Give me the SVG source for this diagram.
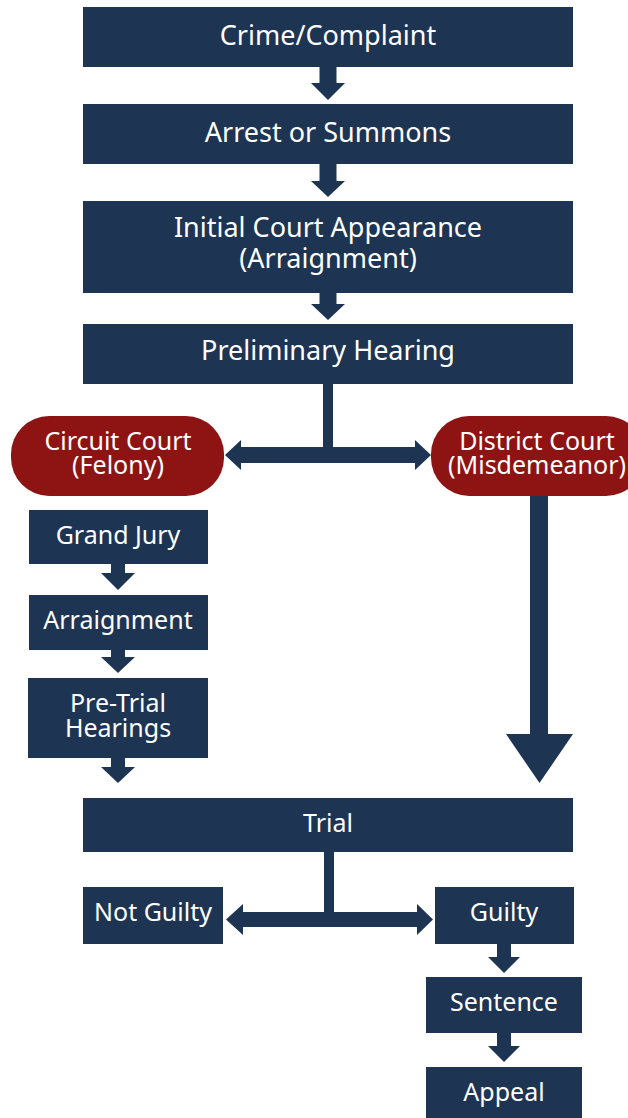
<svg xmlns="http://www.w3.org/2000/svg" width="628" height="1118" viewBox="0 0 628 1118">
<style>
.box{fill:#1d3553}
.pill{fill:#8e1414}
.arr{fill:#1d3553}
.t{fill:#ffffff;font-family:"Noto Sans","DejaVu Sans",sans-serif;font-size:25px;text-anchor:middle}
.tm{fill:#ffffff;font-family:"Noto Sans","DejaVu Sans",sans-serif;font-size:27px;text-anchor:middle}
.tp{fill:#ffffff;font-family:"Noto Sans","DejaVu Sans",sans-serif;font-size:25px;text-anchor:middle}
</style>
<rect width="628" height="1118" fill="#ffffff"/>
<g id="connectors">
  <polygon class="arr" points="319.5,67 336.5,67 336.5,83 345,83 328,100 311,83 319.5,83"/>
  <polygon class="arr" points="319.5,164 336.5,164 336.5,181 345,181 328,197 311,181 319.5,181"/>
  <polygon class="arr" points="319.5,293 336.5,293 336.5,304 345,304 328,320 311,304 319.5,304"/>
  <polygon class="arr" points="323,384 333,384 333,447 415,447 415,440 431,455 415,470 415,463 241,463 241,470 225,455 241,440 241,447 323,447"/>
  <polygon class="arr" points="530,496 548,496 548,734 573,734 539.5,783 506,734 530,734"/>
  <polygon class="arr" points="111,564 125,564 125,573 135,573 118,590 101,573 111,573"/>
  <polygon class="arr" points="111,650 125,650 125,657 135,657 118,673 101,657 111,657"/>
  <polygon class="arr" points="111,758 125,758 125,767 135,767 118,783 101,767 111,767"/>
  <polygon class="arr" points="324,852 334,852 334,912 417,912 417,904 433,919.5 417,935 417,927 243,927 243,935 226,919.5 243,904 243,912 324,912"/>
  <polygon class="arr" points="497,944 511,944 511,957 520,957 504,973 488,957 497,957"/>
  <polygon class="arr" points="497,1033 511,1033 511,1046 520,1046 504,1062 488,1046 497,1046"/>
</g>
<g id="crime"><rect class="box" x="83" y="7" width="490" height="60"/><text class="tm" x="328" y="45">Crime/Complaint</text></g>
<g id="arrest"><rect class="box" x="83" y="104" width="490" height="60"/><text class="tm" x="328" y="142">Arrest or Summons</text></g>
<g id="initial"><rect class="box" x="83" y="201" width="490" height="92"/><text class="tm" x="328" y="237">Initial Court Appearance</text><text class="tm" x="328" y="268">(Arraignment)</text></g>
<g id="prelim"><rect class="box" x="83" y="324" width="490" height="60"/><text class="tm" x="328" y="360">Preliminary Hearing</text></g>
<g id="circuit"><rect class="pill" x="11" y="416" width="213" height="80" rx="38"/><text class="tp" x="118" y="450">Circuit Court</text><text class="tp" x="118" y="474">(Felony)</text></g>
<g id="district"><rect class="pill" x="431" y="416" width="213" height="80" rx="38"/><text class="tp" x="537" y="450">District Court</text><text class="tp" x="537" y="474">(Misdemeanor)</text></g>
<g id="grandjury"><rect class="box" x="29" y="510" width="179" height="54"/><text class="t" x="118" y="544">Grand Jury</text></g>
<g id="arraignment"><rect class="box" x="29" y="595" width="179" height="55"/><text class="t" x="118" y="629">Arraignment</text></g>
<g id="pretrial"><rect class="box" x="28" y="678" width="180" height="80"/><text class="t" x="118" y="712">Pre-Trial</text><text class="t" x="118" y="737">Hearings</text></g>
<g id="trial"><rect class="box" x="83" y="798" width="490" height="54"/><text class="t" x="328" y="832">Trial</text></g>
<g id="notguilty"><rect class="box" x="83" y="887" width="140" height="57"/><text class="t" x="153" y="921">Not Guilty</text></g>
<g id="guilty"><rect class="box" x="435" y="887" width="139" height="57"/><text class="t" x="504" y="921">Guilty</text></g>
<g id="sentence"><rect class="box" x="426" y="977" width="156" height="56"/><text class="t" x="504" y="1011">Sentence</text></g>
<g id="appeal"><rect class="box" x="426" y="1067" width="156" height="51"/><text class="t" x="504" y="1101">Appeal</text></g>
</svg>
